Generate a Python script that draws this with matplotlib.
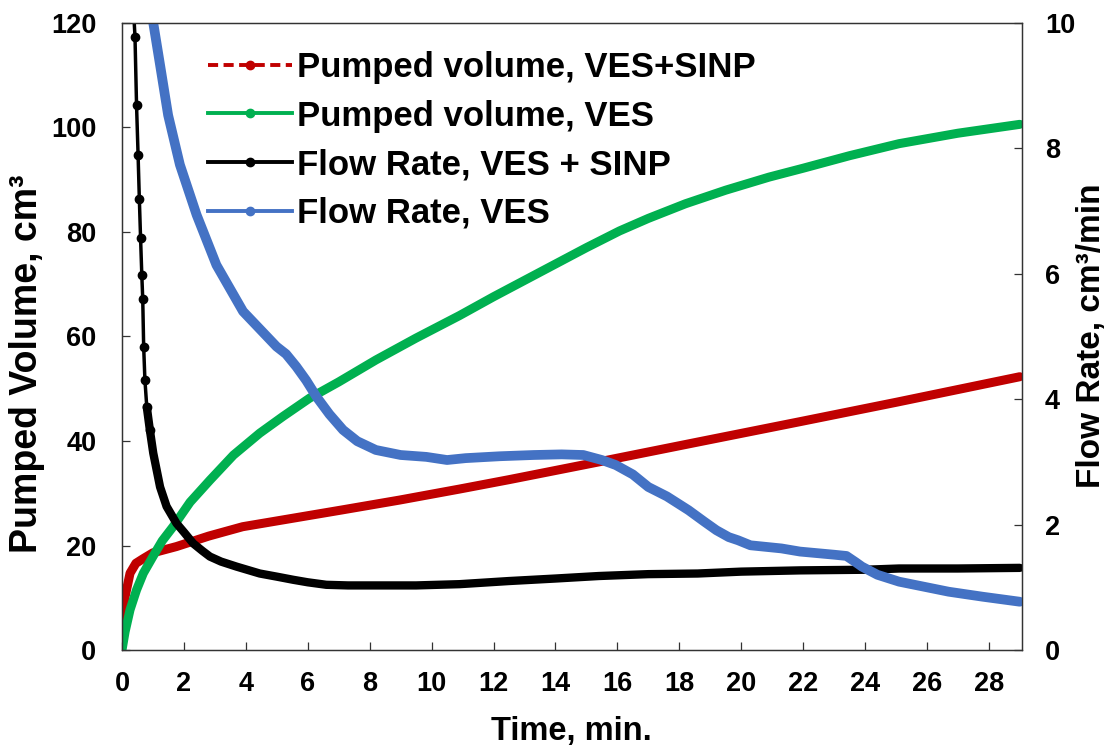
import matplotlib
matplotlib.use('Agg')
import matplotlib.pyplot as plt
from matplotlib.lines import Line2D

# Pumped volume, VES + SINP (cm3)
t_red = [0.0, 0.1, 0.26, 0.45, 0.69, 1.0, 1.76, 2.8, 3.9, 5.5, 7.1, 8.97, 10.9, 12.5, 15.4, 18.6,
         21.9, 25.0, 29.0]
v_red = [3.8, 10.2, 14.7, 16.6, 17.5, 18.6, 19.8, 21.8, 23.6, 25.2, 26.8, 28.7, 30.8, 32.6, 36.0,
         39.8, 43.7, 47.4, 52.3]

# Pumped volume, VES (cm3)
t_green = [0.0, 0.1, 0.26, 0.47, 0.69, 1.0, 1.3, 1.65, 2.2, 2.84, 3.6, 4.45, 5.2, 6.06, 7.0, 8.2,
           9.5, 10.9, 12.0, 13.5, 15.0, 16.07, 17.0, 18.2, 19.5, 20.9, 22.0, 23.5, 25.1, 27.0, 29.0]
v_green = [0.0, 3.5, 7.7, 11.5, 14.7, 17.9, 20.9, 23.6, 28.3, 32.5, 37.3, 41.5, 44.7, 48.2, 51.3,
           55.5, 59.7, 64.0, 67.6, 72.3, 77.0, 80.2, 82.6, 85.4, 88.0, 90.5, 92.2, 94.6, 96.9,
           98.9, 100.6]

# Flow rate, VES + SINP (cm3/min)
t_black = [0.34, 0.42, 0.47, 0.52, 0.56, 0.60, 0.64, 0.67, 0.70, 0.74, 0.80, 0.90, 1.01, 1.23,
           1.44, 1.76, 2.0, 2.3, 2.6, 2.84, 3.2, 3.7, 4.45, 5.0, 5.53, 6.0, 6.6, 7.3, 8.2, 9.5,
           10.9, 12.5, 14.0, 15.4, 17.0, 18.6, 20.0, 21.9, 24.0, 25.1, 27.0, 29.0]
r_black = [10.5, 9.78, 8.69, 7.89, 7.2, 6.57, 5.98, 5.6, 4.84, 4.31, 3.88, 3.51, 3.14, 2.60,
           2.29, 2.02, 1.88, 1.70, 1.58, 1.49, 1.41, 1.33, 1.22, 1.17, 1.12, 1.08, 1.04, 1.03,
           1.03, 1.03, 1.05, 1.10, 1.14, 1.18, 1.21, 1.22, 1.25, 1.27, 1.28, 1.30, 1.30, 1.31]

# Flow rate, VES (cm3/min)
t_blue = [1.01, 1.23, 1.49, 1.87, 2.41, 3.05, 3.91, 4.45, 4.99, 5.3, 5.63, 5.95, 6.28, 6.7, 7.14,
          7.6, 8.2, 9.0, 9.83, 10.5, 11.1, 12.2, 13.3, 14.2, 14.9, 15.5, 15.95, 16.5, 17.0, 17.6,
          18.3, 18.8, 19.2, 19.6, 19.9, 20.3, 21.3, 21.9, 23.0, 23.4, 23.7, 23.9, 24.4, 25.1,
          26.0, 26.7, 27.8, 29.0]
r_blue = [10.0, 9.33, 8.53, 7.74, 6.94, 6.14, 5.40, 5.12, 4.84, 4.72, 4.52, 4.30, 4.04, 3.76, 3.51,
          3.33, 3.19, 3.11, 3.08, 3.03, 3.06, 3.09, 3.11, 3.12, 3.11, 3.03, 2.95, 2.80, 2.60, 2.45,
          2.23, 2.05, 1.91, 1.80, 1.75, 1.67, 1.62, 1.57, 1.52, 1.50, 1.40, 1.33, 1.20, 1.09,
          1.00, 0.93, 0.85, 0.77]

x_ticks = list(range(0, 29, 2))
left_ticks = [0, 20, 40, 60, 80, 100, 120]
right_ticks = [0, 2, 4, 6, 8, 10]

labels = ['Pumped volume, VES+SINP', 'Pumped volume, VES',
          'Flow Rate, VES + SINP', 'Flow Rate, VES']

RED, GREEN, BLACK, BLUE = '#C00000', '#00B050', '#000000', '#4472C4'

plt.rcParams['font.family'] = ['Liberation Sans', 'DejaVu Sans']
plt.rcParams['font.weight'] = 'bold'

fig = plt.figure(figsize=(11.07, 7.48), dpi=100)
ax = fig.add_axes([0.1102, 0.131, 0.813, 0.8383])
ax2 = ax.twinx()

# dense logged points render as one thick band
ax.plot(t_red, v_red, color=RED, lw=6.5, solid_capstyle='round', solid_joinstyle='round')
ax.plot(t_green, v_green, color=GREEN, lw=6.5, solid_capstyle='round', solid_joinstyle='round')

# steep start of the black curve shows separate points
ax2.plot(t_black[:12], r_black[:12], color=BLACK, lw=2.5, marker='o', ms=6)
ax2.plot(t_black[10:], r_black[10:], color=BLACK, lw=6, solid_capstyle='round', solid_joinstyle='round')
ax2.plot(t_blue, r_blue, color=BLUE, lw=7, solid_capstyle='round', solid_joinstyle='round')

ax.set_xlim(0, 29.07)
ax.set_ylim(0, 120)
ax2.set_ylim(0, 10)
ax.set_xticks(x_ticks)
ax.set_yticks(left_ticks)
ax2.set_yticks(right_ticks)

for a in (ax, ax2):
    for s in a.spines.values():
        s.set_color('#333333')
        s.set_linewidth(0.9)
ax.tick_params(axis='x', direction='in', length=6, width=0.9, color='#333333', labelsize=19.5, pad=15)
ax.tick_params(axis='y', direction='in', length=6, width=0.9, color='#333333', labelsize=19.5, pad=18.5)
ax2.tick_params(axis='y', direction='in', length=6, width=0.9, color='#333333', labelsize=19.5, pad=16.5)

ax.set_xlabel('Time, min.', fontsize=23.5, fontweight='bold')
ax.xaxis.set_label_coords(0.499, -0.105)
ax.set_ylabel('Pumped Volume, cm³', fontsize=27, fontweight='bold')
ax.yaxis.set_label_coords(-0.086, 0.457)
ax2.set_ylabel('Flow Rate, cm³/min', fontsize=24, fontweight='bold')
ax2.yaxis.set_label_coords(1.06, 0.502)

handles = [
    Line2D([], [], color=RED, lw=2.8, ls=(0, (2.6, 1.4)), marker='o', ms=6),
    Line2D([], [], color=GREEN, lw=2.8, marker='o', ms=6),
    Line2D([], [], color=BLACK, lw=2.8, marker='o', ms=6),
    Line2D([], [], color=BLUE, lw=2.8, marker='o', ms=6),
]
ax2.legend(handles, labels, loc='upper left', bbox_to_anchor=(208 / 1107, 1 - 51 / 748),
           bbox_transform=fig.transFigure, frameon=False,
           handlelength=2.42, handletextpad=0.15, labelspacing=0.45,
           borderpad=0, borderaxespad=0, prop={'weight': 'bold', 'size': 25})

fig.savefig('out.png', dpi=100)
